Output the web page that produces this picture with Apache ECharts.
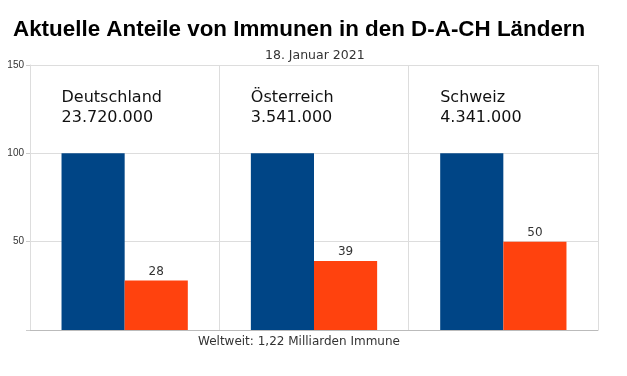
<!DOCTYPE html>
<html>
<head>
<meta charset="utf-8">
<script src="https://cdn.jsdelivr.net/npm/echarts@6/dist/echarts.min.js"></script>
<style>
  html, body { margin: 0; padding: 0; background: #fff; }
  #main { width: 627px; height: 376px; }
</style>
</head>
<body>
<div id="main"></div>
<script>
var countries = ['Deutschland', 'Österreich', 'Schweiz'];
var immuneCounts = ['23.720.000', '3.541.000', '4.341.000'];
var baseValues = [100, 100, 100];
var shareValues = [28, 39, 50];
var yTicks = [0, 50, 100, 150];

var chartDom = document.getElementById('main');
var myChart = echarts.init(chartDom, null, { renderer: 'canvas' });
var option;
option = {
    animation: false,
    title: [
        {
            text: 'Aktuelle Anteile von Immunen in den D-A-CH Ländern',
            left: 8,
            top: 14,
            textStyle: { fontFamily: 'Liberation Sans', fontWeight: 'bold', fontSize: 22.4, color: '#000' }
        },
        {
            text: '18. Januar 2021',
            left: 260,
            top: 44,
            textStyle: { fontFamily: 'DejaVu Sans', fontWeight: 'normal', fontSize: 12.5, color: '#333' }
        }
    ],
    graphic: [
        {
            type: 'text',
            left: 198,
            top: 336,
            style: { text: 'Weltweit: 1,22 Milliarden Immune', font: '12px "DejaVu Sans"', fill: '#333' }
        }
    ],
    grid: { left: 30, right: 29, top: 65, bottom: 46 },
    xAxis: {
        type: 'category',
        data: countries,
        axisLine: { lineStyle: { color: '#bbb' } },
        axisTick: { show: false },
        axisLabel: { show: false },
        splitLine: { show: true, lineStyle: { color: '#ddd' } }
    },
    yAxis: {
        type: 'value',
        min: yTicks[0],
        max: yTicks[yTicks.length - 1],
        interval: 50,
        axisLine: { show: true, lineStyle: { color: '#ddd' } },
        axisTick: { show: true, length: 4, lineStyle: { color: '#ccc' } },
        axisLabel: {
            fontFamily: 'Liberation Sans',
            fontSize: 10,
            color: '#333',
            margin: 6,
            formatter: function (v) { return v === 0 ? '' : String(v); }
        },
        splitLine: { lineStyle: { color: '#ddd' } }
    },
    series: [
        {
            type: 'bar',
            data: baseValues,
            barGap: '0%',
            barCategoryGap: '33.3%',
            itemStyle: { color: '#004586' },
            label: {
                show: true,
                position: [0, -65],
                align: 'left',
                verticalAlign: 'top',
                fontFamily: 'DejaVu Sans',
                fontSize: 16,
                lineHeight: 20,
                color: '#111',
                formatter: function (p) { return countries[p.dataIndex] + '\n' + immuneCounts[p.dataIndex]; }
            }
        },
        {
            type: 'bar',
            data: shareValues,
            itemStyle: { color: '#ff420e' },
            label: {
                show: true,
                position: 'top',
                distance: 3,
                fontFamily: 'DejaVu Sans',
                fontSize: 12,
                color: '#333'
            }
        }
    ]
};
option && myChart.setOption(option);
</script>
</body>
</html>
